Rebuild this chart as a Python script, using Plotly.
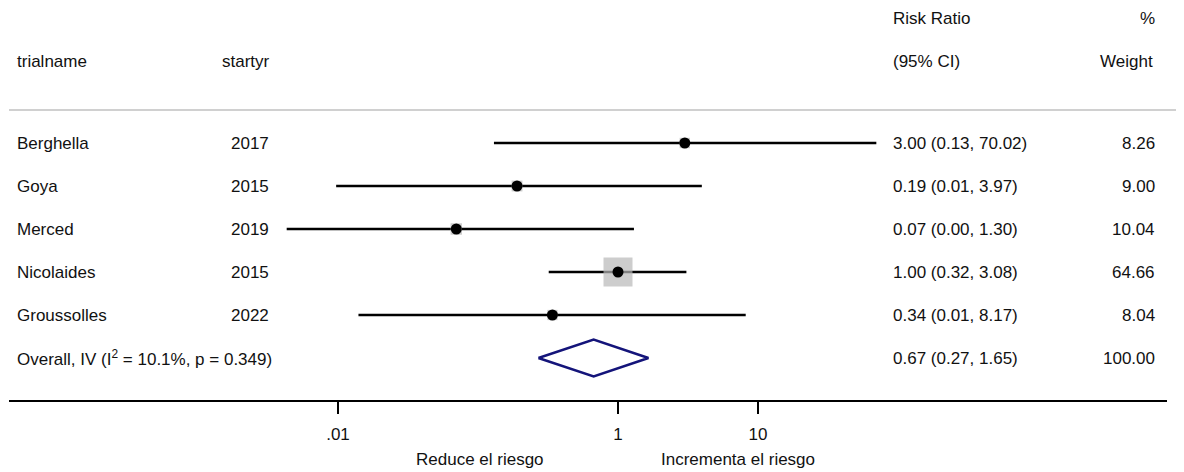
import numpy as np
import plotly.graph_objects as go

# ---- data ----
trials = ["Berghella", "Goya", "Merced", "Nicolaides", "Groussolles"]
years = ["2017", "2015", "2019", "2015", "2022"]
rr = [3.00, 0.19, 0.07, 1.00, 0.34]
ci_lo = [0.13, 0.0097, 0.0043, 0.32, 0.014]
ci_hi = [70.02, 3.97, 1.30, 3.08, 8.17]
weights = [8.26, 9.00, 10.04, 64.66, 8.04]
overall_rr = 0.67
overall_lo = 0.27
overall_hi = 1.65
overall_weight = 100.00
overall_label = "Overall, IV (I<sup>2</sup> = 10.1%, p = 0.349)"
tick_vals = [0.01, 1, 10]
tick_text = [".01", "1", "10"]
left_label = "Reduce el riesgo"
right_label = "Incrementa el riesgo"

# ---- layout geometry (reference pixel coords; page body adds an 8px offset) ----
OFF = 8
W, H = 1184 - OFF, 472 - OFF
PLOT_L, PLOT_R, PLOT_T, PLOT_B = 9, 1167, OFF, 400   # in reference pixels
ML = PLOT_L - OFF
MR = W - (PLOT_R - OFF)
MT = PLOT_T - OFF
MB = H - (PLOT_B - OFF)
PW = PLOT_R - PLOT_L
PH = PLOT_B - PLOT_T
PX_PER_DEC = 140.0
X_ONE = 618
xmin = -(X_ONE - PLOT_L) / PX_PER_DEC
xmax = xmin + PW / PX_PER_DEC
ROW0, ROWH = 143, 43


def px(xpix):
    return (xpix - PLOT_L) / PW


def rowy(ypix):
    return (ypix - ROW0) / ROWH


ytop = rowy(PLOT_T)
ybot = rowy(PLOT_B)

FONT = "Liberation Sans, Arial, sans-serif"
FS = 17
TXT = "#111111"

n = len(trials)
rows = list(range(n))
fig = go.Figure()

# CI lines
for i in rows:
    fig.add_trace(go.Scatter(x=[ci_lo[i], ci_hi[i]], y=[i, i], mode="lines",
                             line=dict(color="black", width=2.5),
                             hoverinfo="skip", showlegend=False))

# weight boxes (area proportional to weight)
box_size = [29 * np.sqrt(w / max(weights)) for w in weights]
fig.add_trace(go.Scatter(x=rr, y=rows, mode="markers",
                         marker=dict(symbol="square", size=box_size,
                                     color="#b8b8b8", line=dict(width=0)),
                         hoverinfo="skip", showlegend=False))
# point estimates
fig.add_trace(go.Scatter(x=rr, y=rows, mode="markers",
                         marker=dict(symbol="circle", size=11, color="black"),
                         hoverinfo="skip", showlegend=False))

# overall diamond
oy = n
dh = 0.43
fig.add_trace(go.Scatter(x=[overall_lo, overall_rr, overall_hi, overall_rr, overall_lo],
                         y=[oy, oy - dh, oy, oy + dh, oy], mode="lines",
                         line=dict(color="#14147a", width=2.4),
                         hoverinfo="skip", showlegend=False))

shapes = []
# grey separator line
shapes.append(dict(type="line", xref="paper", yref="y", x0=0, x1=px(1190),
                   y0=rowy(110), y1=rowy(110), line=dict(color="#d0d0d0", width=2)))
# null line at 1
shapes.append(dict(type="line", xref="x", yref="y", x0=0, x1=0,
                   y0=rowy(110), y1=ybot, line=dict(color="black", width=1.5)))
# overall dashed line
shapes.append(dict(type="line", xref="x", yref="y",
                   x0=np.log10(overall_rr), x1=np.log10(overall_rr),
                   y0=-0.47, y1=n + 0.47,
                   line=dict(color="#b05050", width=1.5, dash="dash")))

ann = []


def add_text(text, xpix, y, anchor="left", yref="y"):
    shift = {"left": -2, "right": 2, "center": 0}[anchor]
    ann.append(dict(text=text, x=px(xpix + shift), xref="paper", y=y, yref=yref,
                    xanchor=anchor, yanchor="middle", showarrow=False,
                    font=dict(family=FONT, size=FS, color=TXT)))


# headers
add_text("trialname", 17, rowy(61))
add_text("startyr", 222, rowy(61))
add_text("Risk Ratio", 893, rowy(18))
add_text("(95% CI)", 893, rowy(61))
add_text("%", 1155, rowy(18), "right")
add_text("Weight", 1153, rowy(61), "right")

for i in rows:
    add_text(trials[i], 17, i)
    add_text(years[i], 231, i)
    add_text(f"{rr[i]:.2f} ({ci_lo[i]:.2f}, {ci_hi[i]:.2f})", 893, i)
    add_text(f"{weights[i]:.2f}", 1155, i, "right")

add_text(overall_label, 17, oy)
add_text(f"{overall_rr:.2f} ({overall_lo:.2f}, {overall_hi:.2f})", 893, oy)
add_text(f"{overall_weight:.2f}", 1155, oy, "right")

# bottom labels
add_text(left_label, 480, (PLOT_B - 459) / PH, "center", "paper")
add_text(right_label, 738, (PLOT_B - 459) / PH, "center", "paper")

fig.update_layout(
    width=W, height=H,
    margin=dict(l=ML, r=MR, t=MT, b=MB, pad=0),
    paper_bgcolor="white", plot_bgcolor="white",
    shapes=shapes, annotations=ann, showlegend=False,
    xaxis=dict(type="log", range=[xmin, xmax], tickvals=tick_vals, ticktext=tick_text,
               ticks="outside", ticklen=12, tickwidth=1.5, tickcolor="black",
               showline=True, linecolor="black", linewidth=1.5,
               showgrid=False, zeroline=False, ticklabelstandoff=6,
               tickfont=dict(family=FONT, size=FS, color=TXT), fixedrange=True),
    yaxis=dict(range=[ybot, ytop], visible=False, showgrid=False, zeroline=False,
               fixedrange=True),
)

fig.write_html("out.html")
